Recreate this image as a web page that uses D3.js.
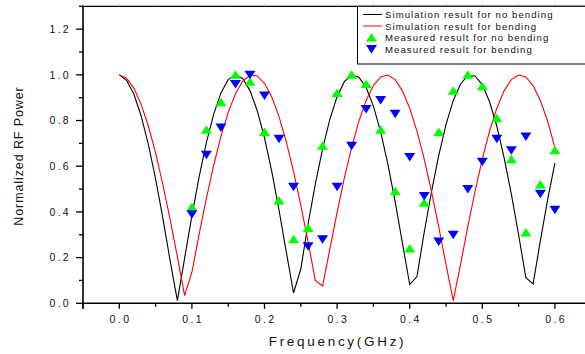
<!DOCTYPE html>
<html><head><meta charset="utf-8">
<script src="https://cdn.jsdelivr.net/npm/d3@7"></script>
<style>body{margin:0;background:#fff}svg{display:block}text{font-family:"Liberation Sans",Arial,sans-serif}</style>
</head><body><svg id="c" width="585" height="354"></svg>
<script>
const simFreq = [0.00,0.01,0.02,0.03,0.04,0.05,0.06,0.07,0.08,0.09,0.10,0.11,0.12,0.13,0.14,0.15,0.16,0.17,0.18,0.19,0.20,0.21,0.22,0.23,0.24,0.25,0.26,0.27,0.28,0.29,0.30,0.31,0.32,0.33,0.34,0.35,0.36,0.37,0.38,0.39,0.40,0.41,0.42,0.43,0.44,0.45,0.46,0.47,0.48,0.49,0.50,0.51,0.52,0.53,0.54,0.55,0.56,0.57,0.58,0.59,0.60];
const simNoBend = [1.000,0.976,0.916,0.821,0.696,0.545,0.373,0.187,0.012,0.198,0.384,0.554,0.704,0.828,0.921,0.979,1.000,0.984,0.931,0.843,0.724,0.577,0.408,0.225,0.045,0.150,0.347,0.522,0.676,0.805,0.905,0.970,0.999,0.990,0.944,0.863,0.750,0.608,0.444,0.263,0.082,0.117,0.311,0.488,0.647,0.782,0.888,0.960,0.996,0.995,0.956,0.882,0.775,0.638,0.478,0.300,0.112,0.085,0.274,0.454,0.615];
const simBend = [1.000,0.985,0.942,0.872,0.776,0.658,0.520,0.367,0.203,0.034,0.136,0.303,0.460,0.604,0.731,0.836,0.917,0.972,0.998,0.995,0.963,0.903,0.817,0.707,0.577,0.429,0.270,0.100,0.076,0.237,0.398,0.549,0.682,0.797,0.888,0.953,0.991,0.999,0.979,0.930,0.854,0.754,0.631,0.490,0.335,0.170,0.012,0.170,0.335,0.490,0.631,0.754,0.854,0.930,0.979,0.999,0.991,0.953,0.888,0.797,0.680];
const measFreq = [0.10,0.12,0.14,0.16,0.18,0.20,0.22,0.24,0.26,0.28,0.30,0.32,0.34,0.36,0.38,0.40,0.42,0.44,0.46,0.48,0.50,0.52,0.54,0.56,0.58,0.60];
const measNoBend = [0.42,0.76,0.88,1.00,0.97,0.75,0.45,0.28,0.33,0.69,0.92,1.00,0.96,0.76,0.49,0.24,0.44,0.75,0.93,1.00,0.95,0.81,0.63,0.31,0.52,0.67];
const measBend = [0.39,0.65,0.77,0.96,1.00,0.91,0.72,0.51,0.25,0.28,0.51,0.69,0.85,0.89,0.83,0.64,0.47,0.27,0.30,0.50,0.62,0.72,0.67,0.73,0.48,0.41];
const xTicks = [0.0,0.1,0.2,0.3,0.4,0.5,0.6];
const yTicks = [0.0,0.2,0.4,0.6,0.8,1.0,1.2];
const legendLabels = ["Simulation result for no bending","Simulation result for bending","Measured result for no bending","Measured result for bending"];

const svg = d3.select("#c");
const x = d3.scaleLinear().domain([-0.05,0.65]).range([83,591.2]);
const y = d3.scaleLinear().domain([0,1.3]).range([303.3,6.3]);

// frame top line
svg.append("line").attr("x1",83).attr("x2",600).attr("y1",6.3).attr("y2",6.3).attr("stroke","#000").attr("stroke-width",1.3);
// top tiny ticks
const minorX = d3.range(-0.05,0.651,0.05);
svg.append("g").selectAll("line").data(minorX.slice(1)).join("line")
  .attr("x1",d=>x(d)).attr("x2",d=>x(d)).attr("y1",6.3).attr("y2",4).attr("stroke","#bbb").attr("stroke-width",1);

// X axis
const gx = svg.append("g").attr("transform","translate(0,303.3)");
gx.append("line").attr("x1",82).attr("x2",600).attr("stroke","#000").attr("stroke-width",1.5);
gx.selectAll(".mn").data(minorX).join("line").attr("x1",d=>x(d)).attr("x2",d=>x(d)).attr("y1",0).attr("y2",d=>{
  const r=Math.round(d*100); return (r%10===0)?5.5:3.5;}).attr("stroke","#000").attr("stroke-width",1.3);
gx.selectAll("text").data(xTicks).join("text").attr("x",d=>x(d)+1.2).attr("y",20).attr("text-anchor","middle")
  .attr("font-size","10.5px").attr("letter-spacing","2.4px").attr("fill","#111").text(d=>d.toFixed(1));
svg.append("text").attr("x",337.5).attr("y",346).attr("text-anchor","middle").attr("font-size","13.5px")
  .attr("letter-spacing","2.7px").attr("fill","#111").text("Frequency(GHz)");

// Y axis
const gy = svg.append("g").attr("transform","translate(83,0)");
gy.append("line").attr("y1",5.5).attr("y2",309).attr("stroke","#000").attr("stroke-width",1.6);
const minorY = d3.range(0,1.301,0.1);
gy.selectAll(".t").data(minorY).join("line").attr("y1",d=>y(d)).attr("y2",d=>y(d)).attr("x1",0).attr("x2",d=>{
  const r=Math.round(d*10); return (r%2===0)?-7:-4;}).attr("stroke","#000").attr("stroke-width",1.3);
gy.selectAll("text").data(yTicks).join("text").attr("x",-12).attr("y",d=>y(d)+3.7).attr("text-anchor","end")
  .attr("font-size","10.5px").attr("letter-spacing","2.3px").attr("fill","#111").text(d=>d.toFixed(1));
svg.append("text").attr("transform","translate(23,156) rotate(-90)").attr("text-anchor","middle")
  .attr("font-size","12.5px").attr("letter-spacing","0.9px").attr("fill","#111").text("Normalized RF Power");

// curves
const line = d3.line().x(d=>x(d[0])).y(d=>y(d[1]));
svg.append("path").datum(simFreq.map((f,i)=>[f,simNoBend[i]])).attr("d",line).attr("fill","none").attr("stroke","#000").attr("stroke-width",1.1);
svg.append("path").datum(simFreq.map((f,i)=>[f,simBend[i]])).attr("d",line).attr("fill","none").attr("stroke","#ff0000").attr("stroke-width",1.1);

const up = (cx,cy)=>`M${cx-5.5},${cy+4}L${cx+5.5},${cy+4}L${cx},${cy-4.5}Z`;
const down = (cx,cy)=>`M${cx-5.5},${cy-4}L${cx+5.5},${cy-4}L${cx},${cy+4.5}Z`;
svg.append("g").selectAll("path").data(measFreq.map((f,i)=>[f,measNoBend[i]])).join("path")
  .attr("d",d=>up(x(d[0]),y(d[1]))).attr("fill","#00ff00");
svg.append("g").selectAll("path").data(measFreq.map((f,i)=>[f,measBend[i]])).join("path")
  .attr("d",d=>down(x(d[0]),y(d[1]))).attr("fill","#0000ff");

// legend
const lg = svg.append("g");
lg.append("rect").attr("x",357.5).attr("y",6.3).attr("width",260).attr("height",57.7).attr("fill","#fff").attr("stroke","#000").attr("stroke-width",1);
const rowY = [14.5,26,37.5,49];
lg.append("line").attr("x1",363).attr("x2",382).attr("y1",rowY[0]).attr("y2",rowY[0]).attr("stroke","#000").attr("stroke-width",1);
lg.append("line").attr("x1",363).attr("x2",382).attr("y1",rowY[1]).attr("y2",rowY[1]).attr("stroke","#ff0000").attr("stroke-width",1);
lg.append("path").attr("d",up(371.5,rowY[2])).attr("fill","#00ff00");
lg.append("path").attr("d",down(371.5,rowY[3])).attr("fill","#0000ff");
lg.selectAll("text").data(legendLabels).join("text").attr("x",385).attr("y",(d,i)=>rowY[i]+3.5)
  .attr("font-size","9.6px").attr("letter-spacing","1.05px").attr("fill","#111").text(d=>d);
</script></body></html>
